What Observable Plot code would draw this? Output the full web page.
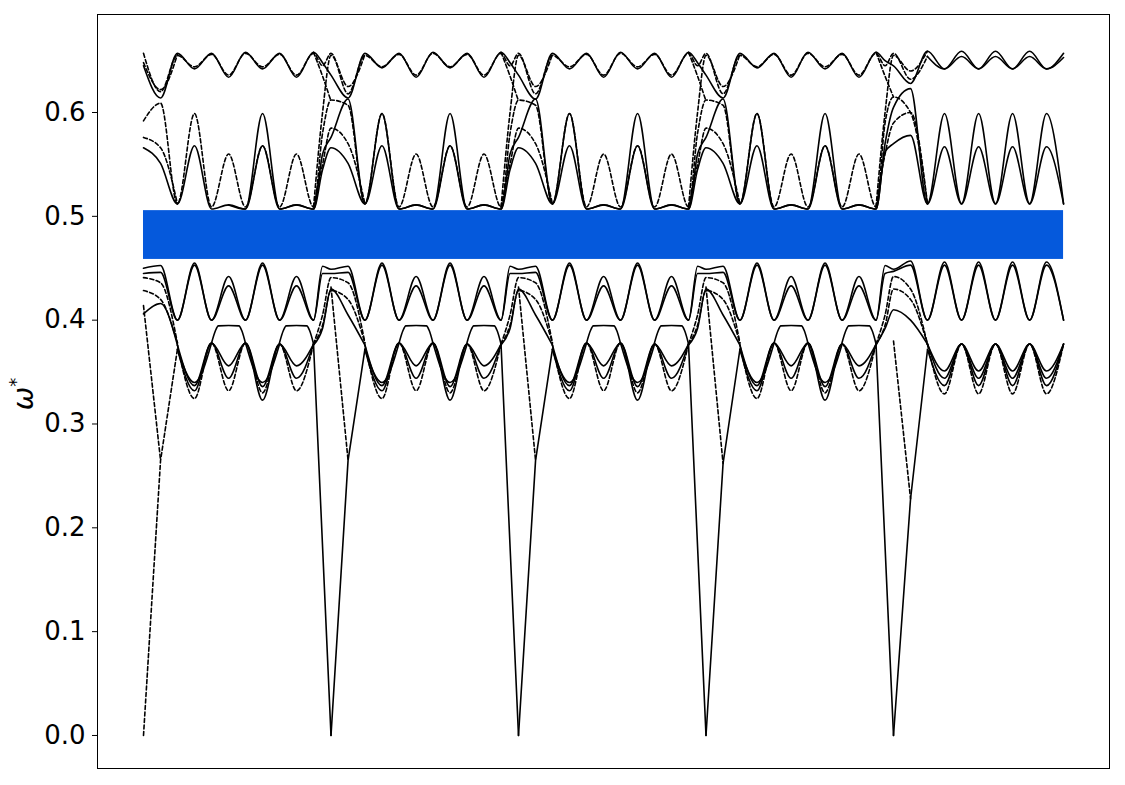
<!DOCTYPE html>
<html>
<head>
<meta charset="utf-8">
<script src="https://cdn.jsdelivr.net/npm/d3@7"></script>
<script src="https://cdn.jsdelivr.net/npm/@observablehq/plot@0.6"></script>
<style>
  html, body { margin: 0; padding: 0; background: #fff; }
  #chart { width: 1125px; height: 785px; }
</style>
</head>
<body>
<div id="chart"></div>
<script>
const N = NaN;

// ---- x knots (path coordinate, one unit per segment) ----
const segStart = [0, 1, 2, 3, 4];
const knotR = [0, 0.091, 0.181, 0.272, 0.363, 0.454, 0.544, 0.635, 0.726, 0.816, 0.907, 0.955];

// ---- y ticks / band gap ----
const yTicks = [0, 0.1, 0.2, 0.3, 0.4, 0.5, 0.6];
const gapX = [0, 4.907];
const gapY = [0.4585, 0.5055];

// ---- top group ----
const g1a = [
  [.645,.614,.657,.642,.657,.634,.658,.642,.657,.634,.658,.648],
  [.636,.614,.657,.643,.657,.634,.658,.643,.657,.634,.658,.648],
  [.636,.613,.657,.642,.657,.634,.658,.642,.657,.634,.658,.648],
  [.636,.614,.657,.643,.657,.634,.658,.642,.657,.634,.658,.650],
  [.645,.628,.659,.642,.659,.642,.659,.642,.659,.642,.657]
].flat();
const g1b = [
  [.657,.620,.655,.644,.656,.636,.657,.644,.656,.636,.657,.645],
  [.657,.618,.655,.644,.656,.636,.657,.644,.656,.636,.657,.645],
  [.657,.618,.655,.644,.656,.636,.657,.644,.656,.636,.657,.645],
  [.657,.618,.655,.644,.656,.636,.657,.644,.656,.636,.657,.645],
  [.657,.632,.654,N,N,N,N,N,N,N,N]
].flat();
const g1c = [
  [N,N,N,N,N,N,N,N,N,N,N,N],
  [N,N,N,N,N,N,N,N,N,N,N,N],
  [N,N,N,N,N,N,N,N,N,N,N,N],
  [N,N,N,N,N,N,N,N,N,N,N,N],
  [N,N,.654,.642,.654,.642,.654,.642,.654,.642,.653]
].flat();
const g1d = [
  [N,N,N,N,N,N,N,N,N,N,.658,.635],
  [.611,N,N,N,N,N,N,N,N,N,.658,.635],
  [.611,N,N,N,N,N,N,N,N,N,.658,.635],
  [.611,N,N,N,N,N,N,N,N,N,.658,.635],
  [.615,N,N,N,N,N,N,N,N,N,N]
].flat();

// ---- middle group ----
const g2a = [
  [.566,.551,.512,.568,.507,.511,.507,.568,.507,.511,.507,.545],
  [.566,.551,.512,.568,.507,.511,.507,.568,.507,.511,.507,.545],
  [.566,.551,.512,.568,.507,.511,.507,.568,.507,.511,.507,.545],
  [.566,.551,.512,.568,.507,.511,.507,.568,.507,.511,.507,.562],
  [.570,.578,.512,.567,.512,.567,.512,.567,.512,.567,.512]
].flat();
const g2b = [
  [.592,.609,.512,.599,.509,.560,.509,.568,.509,.560,.509,.580],
  [.612,.607,.512,.599,.509,.560,.509,.568,.509,.560,.509,.580],
  [.612,.607,.512,.599,.509,.560,.509,.568,.509,.560,.509,.580],
  [.612,.607,.512,.599,.509,.560,.509,.568,.509,.560,.509,.590],
  [.615,.600,.512,N,N,N,N,N,N,N,N]
].flat();
const g2c = [
  [N,N,N,N,N,.511,.507,.599,.507,.511,.507,.560],
  [.576,.613,.512,.599,.507,.511,.507,.599,.507,.511,.507,.560],
  [.576,.613,.512,.599,.507,.511,.507,.599,.507,.511,.507,.560],
  [.576,.613,.512,.599,.507,.511,.507,.599,.507,.511,.507,.570],
  [.605,.623,.512,.599,.512,.599,.512,.599,.512,.599,.512]
].flat();
const g2d = [
  [.648,.622,.656,N,N,N,N,N,N,N,.509,.600],
  [.655,.625,.656,N,N,N,N,N,N,N,.509,.600],
  [.655,.625,.656,N,N,N,N,N,N,N,.509,.600],
  [.655,.625,.656,N,N,N,N,N,N,N,.509,.600],
  [.655,.640,.659,N,N,N,N,N,N,N,N]
].flat();
const g2e = [
  [.576,.566,.512,N,N,N,N,N,N,N,.509,.550],
  [.585,.570,.512,N,N,N,N,N,N,N,.509,.550],
  [.585,.570,.512,N,N,N,N,N,N,N,.509,.550],
  [.585,.570,.512,N,N,N,N,N,N,N,.509,.560],
  [.590,.600,.512,N,N,N,N,N,N,N,N]
].flat();

// ---- group below the gap ----
const g3a = [
  [.450,.4526,.400,.455,.400,.442,.400,.455,.400,.442,.400,.452],
  [.449,.452,.400,.455,.400,.442,.400,.455,.400,.442,.400,.452],
  [.449,.452,.400,.455,.400,.442,.400,.455,.400,.442,.400,.452],
  [.449,.452,.400,.455,.400,.442,.400,.455,.400,.442,.400,.4526],
  [.449,.457,.400,.456,.400,.456,.400,.456,.400,.456,.400]
].flat();
const g3b = [
  [.445,.446,.400,.453,.400,.433,.400,.453,.400,.433,.400,.445],
  [.445,.446,.400,.453,.400,.433,.400,.453,.400,.433,.400,.445],
  [.445,.446,.400,.453,.400,.433,.400,.453,.400,.433,.400,.445],
  [.445,.446,.400,.453,.400,.433,.400,.453,.400,.433,.400,.445],
  [.447,.453,.400,.453,.400,.453,.400,.453,.400,.453,.400]
].flat();

// ---- lowest optical group ----
const g4a = [
  [N,N,.372,.340,.378,N,.378,.340,.377,N,.377,N],
  [N,N,.372,.340,.378,N,.378,.340,.377,N,.377,N],
  [N,N,.372,.340,.378,N,.378,.340,.377,N,.377,N],
  [N,N,.372,.340,.378,N,.378,.340,.377,N,.377,N],
  [N,N,.377,.351,.377,.351,.377,.351,.377,.351,.377]
].flat();
const g4b = [
  [N,N,.376,.337,.378,.356,.378,.336,.377,.356,.377,N],
  [N,N,.376,.337,.378,.356,.378,.336,.377,.356,.377,N],
  [N,N,.376,.337,.378,.356,.378,.336,.377,.356,.377,N],
  [N,N,.376,.337,.378,.356,.378,.336,.377,.356,.377,N],
  [N,N,.377,.344,.377,.344,.377,.344,.377,.344,.377]
].flat();
const g4c = [
  [N,N,.372,.332,.378,.344,.378,.323,.377,.344,.377,N],
  [N,N,.372,.332,.378,.344,.378,.323,.377,.344,.377,N],
  [N,N,.372,.332,.378,.344,.378,.323,.377,.344,.377,N],
  [N,N,.372,.332,.378,.344,.378,.323,.377,.344,.377,N],
  [N,N,.372,.337,.377,.337,.377,.337,.377,.337,.377]
].flat();
const g4d = [
  [N,N,.376,.3245,.378,.332,.378,.330,.377,.332,.377,N],
  [N,N,.376,.3245,.378,.332,.378,.330,.377,.332,.377,N],
  [N,N,.376,.3245,.378,.332,.378,.330,.377,.332,.377,N],
  [N,N,.376,.3245,.378,.332,.378,.330,.377,.332,.377,N],
  [N,N,.377,.329,.377,.329,.377,.329,.377,.329,.377]
].flat();
const tg1 = [
  [.441,.436,.378,N,N,N,N,N,N,N,.377,.405],
  [.441,.436,.378,N,N,N,N,N,N,N,.377,.405],
  [.441,.436,.378,N,N,N,N,N,N,N,.377,.405],
  [.441,.436,.378,N,N,N,N,N,N,N,.377,.405],
  [.442,.430,.377,N,N,N,N,N,N,N,N]
].flat();
const tg2 = [
  [.4285,.420,.378,N,N,N,N,N,N,N,.377,.395],
  [.4285,.420,.378,N,N,N,N,N,N,N,.377,.395],
  [.4285,.420,.378,N,N,N,N,N,N,N,.377,.395],
  [.4285,.420,.378,N,N,N,N,N,N,N,.377,.395],
  [.430,.420,.377,N,N,N,N,N,N,N,N]
].flat();
const tg3 = [
  [.406,.416,.376,N,N,N,N,N,N,N,.376,.392],
  [.430,.405,.376,N,N,N,N,N,N,N,.376,.392],
  [.430,.405,.376,N,N,N,N,N,N,N,.376,.392],
  [.430,.405,.376,N,N,N,N,N,N,N,.376,.392],
  [.410,.400,.377,N,N,N,N,N,N,N,N]
].flat();

// flat-topped humps of the lowest optical group
const plateauCenters = [0.454, 0.816, 1.454, 1.816, 2.454, 2.816, 3.454, 3.816];
const plateauDx = [-0.091, -0.07, -0.055, 0, 0.055, 0.07, 0.091];
const plateauY = [0.378, 0.390, 0.3945, 0.3948, 0.3945, 0.390, 0.377];

// acoustic branch: zeros at segment ends, cusp values
const gammaK = [0, 1, 2, 3, 4];
const cuspY = [0.265, 0.265, 0.265, 0.262, 0.228];
const armTopY = [0.372, 0.372, 0.372, 0.372, 0.371];
const armStartY = [0.376, 0.376, 0.376, 0.376];
const crossTopY = [0.414, 0.432, 0.432, 0.432, 0.380];

// ---- build tables ----
const k = segStart.flatMap((s, i) => (i < 4 ? knotR : knotR.slice(0, 11)).map(r => +(s + r).toFixed(3)));

const solidBands = {g1a, g1c, g2a, g2c, g3a, g3b, g4a, g4b, g4c, tg3};
const dashedBands = {g1b, g1d, g2b, g2d, g2e, g4d, tg1, tg2};

function toRows(obj) {
  const out = [];
  for (const [name, arr] of Object.entries(obj)) {
    arr.forEach((v, i) => out.push({band: name, x: k[i], y: v}));
  }
  return out;
}
const solidRows = toRows(solidBands);
const dashedRows = toRows(dashedBands);

plateauCenters.forEach((c, j) => {
  plateauDx.forEach((dx, i) => solidRows.push({band: "plateau" + j, x: c + dx, y: plateauY[i]}));
});

const veeSolid = [];
const veeDashed = [];
gammaK.forEach((g, j) => {
  if (j > 0) {
    veeSolid.push({band: "L" + j, x: g - 1 + knotR[10], y: armStartY[j - 1]});
    veeSolid.push({band: "L" + j, x: g, y: 0});
  }
  const target = j === 0 ? veeDashed : veeSolid;
  target.push({band: "R" + j, x: g, y: 0});
  target.push({band: "R" + j, x: g + knotR[1], y: cuspY[j]});
  target.push({band: "R" + j, x: g + knotR[2], y: armTopY[j]});
  veeDashed.push({band: "X" + j, x: g, y: crossTopY[j]});
  veeDashed.push({band: "X" + j, x: g + knotR[1], y: cuspY[j]});
});

const gapRect = [{x1: gapX[0], x2: gapX[1], y1: gapY[0], y2: gapY[1]}];

const lineStyle = {x: "x", y: "y", z: "band", stroke: "black", strokeWidth: 1.6};

const chart = Plot.plot({
  width: 1125,
  height: 785,
  marginLeft: 97,
  marginRight: 16,
  marginTop: 14,
  marginBottom: 17,
  style: {fontFamily: "DejaVu Sans", fontSize: "26px", background: "white", color: "black"},
  x: {domain: [-0.2453, 5.152], axis: null},
  y: {domain: [-0.0318, 0.6944], ticks: yTicks, tickFormat: d => d.toFixed(1), tickSize: 5, tickPadding: 7, label: null},
  marks: [
    Plot.rect(gapRect, {x1: "x1", x2: "x2", y1: "y1", y2: "y2", fill: "#0559dc"}),
    Plot.line(solidRows, {...lineStyle, curve: "monotone-x"}),
    Plot.line(dashedRows, {...lineStyle, curve: "monotone-x", strokeDasharray: "4,2.5"}),
    Plot.line(veeSolid, {...lineStyle, curve: "linear"}),
    Plot.line(veeDashed, {...lineStyle, curve: "linear", strokeDasharray: "4,2.5"}),
    Plot.frame({stroke: "black", strokeWidth: 1})
  ]
});

document.getElementById("chart").appendChild(chart);

const svg = d3.select(chart);
const lab = svg.append("text")
  .attr("transform", "translate(33,394) rotate(-90)")
  .attr("text-anchor", "middle")
  .attr("font-family", "DejaVu Sans")
  .attr("font-size", 28)
  .attr("fill", "black");
lab.append("tspan").attr("font-style", "italic").text("ω");
lab.append("tspan").attr("font-size", 18).attr("dy", -11).text("*");
</script>
</body>
</html>
